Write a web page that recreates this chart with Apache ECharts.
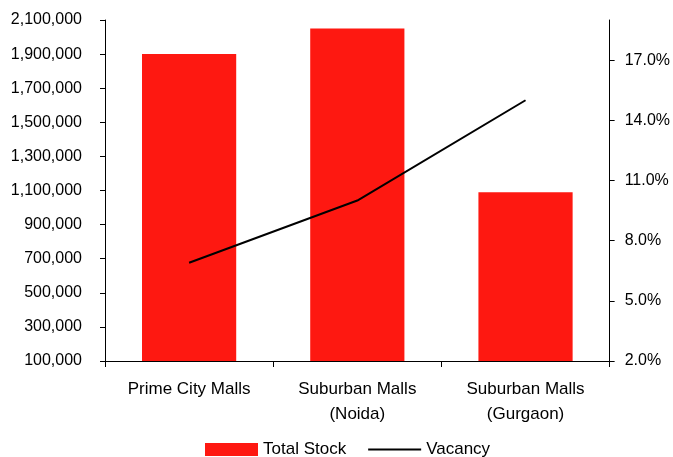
<!DOCTYPE html>
<html>
<head>
<meta charset="utf-8">
<script src="https://cdn.jsdelivr.net/npm/echarts@6/dist/echarts.min.js"></script>
<style>
  html, body { margin: 0; padding: 0; background: #fff; }
  #chart { width: 673px; height: 457px; }
</style>
</head>
<body>
<div id="chart"></div>
<script>
// Mall stock (sq ft) and vacancy rate by location
const categories = ['Prime City Malls', 'Suburban Malls\n(Noida)', 'Suburban Malls\n(Gurgaon)'];
const totalStock = [1900000, 2050000, 1090000];
const vacancy = [6.9, 10.0, 15.0];
const stockTicks = [100000, 300000, 500000, 700000, 900000, 1100000, 1300000, 1500000, 1700000, 1900000, 2100000];
const vacancyTicks = [2, 5, 8, 11, 14, 17];

const FONT = "'Liberation Sans', Arial, sans-serif";
const axisLine = { show: true, lineStyle: { color: '#000', width: 1 } };

const chart = echarts.init(document.getElementById('chart'), null, { renderer: 'canvas' });
chart.setOption({
  animation: false,
  backgroundColor: '#fff',
  textStyle: { fontFamily: FONT, color: '#000' },
  grid: { left: 105, right: 63, top: 20, bottom: 96, containLabel: false },
  legend: {
    left: 205,
    top: 441,
    padding: 0,
    itemWidth: 53,
    itemHeight: 13,
    itemGap: 21,
    textStyle: { fontFamily: FONT, fontSize: 17, color: '#000' },
    data: [
      { name: 'Total Stock', icon: 'rect' },
      // line-only key: hide the marker drawn on top of the line
      { name: 'Vacancy', itemStyle: { color: 'rgba(0,0,0,0)', borderWidth: 0, opacity: 0 } }
    ]
  },
  xAxis: {
    type: 'category',
    data: categories,
    boundaryGap: true,
    axisLine: axisLine,
    axisTick: { show: true, length: 6, alignWithLabel: false, lineStyle: { color: '#000' } },
    axisLabel: { fontFamily: FONT, fontSize: 17, color: '#000', margin: 16, lineHeight: 25, interval: 0 },
    splitLine: { show: false }
  },
  yAxis: [
    {
      type: 'value',
      min: 100000,
      max: 2100000,
      position: 'left',
      axisLine: axisLine,
      axisTick: { show: true, length: 5, customValues: stockTicks, lineStyle: { color: '#000' } },
      axisLabel: {
        customValues: stockTicks,
        fontFamily: FONT, fontSize: 16, color: '#000', margin: 23,
        formatter: v => Math.round(v).toLocaleString('en-US')
      },
      splitLine: { show: false }
    },
    {
      type: 'value',
      min: 2,
      max: 19,
      position: 'right',
      axisLine: axisLine,
      axisTick: { show: true, length: 5, customValues: vacancyTicks, lineStyle: { color: '#000' } },
      axisLabel: {
        customValues: vacancyTicks,
        fontFamily: FONT, fontSize: 16, color: '#000', margin: 15,
        formatter: v => v.toFixed(1) + '%'
      },
      splitLine: { show: false }
    }
  ],
  series: [
    {
      name: 'Total Stock',
      type: 'bar',
      yAxisIndex: 0,
      data: totalStock,
      barWidth: '56%',
      itemStyle: { color: '#fe1811' }
    },
    {
      name: 'Vacancy',
      type: 'line',
      yAxisIndex: 1,
      data: vacancy,
      symbol: 'none',
      itemStyle: { color: '#000' },
      lineStyle: { color: '#000', width: 2 }
    }
  ]
});
</script>
</body>
</html>
